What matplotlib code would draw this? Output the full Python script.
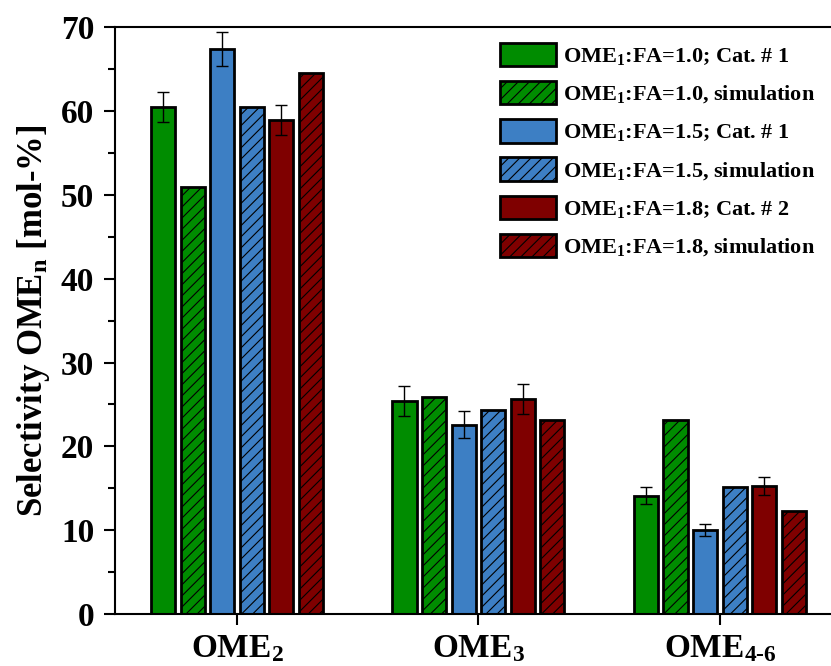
import numpy as np
import matplotlib
matplotlib.use("Agg")
import matplotlib.pyplot as plt

plt.rcParams['font.family'] = 'Liberation Serif'
plt.rcParams['font.weight'] = 'bold'
plt.rcParams['axes.labelweight'] = 'bold'
plt.rcParams['mathtext.fontset'] = 'custom'
plt.rcParams['mathtext.rm'] = 'Liberation Serif:bold'
plt.rcParams['mathtext.bf'] = 'Liberation Serif:bold'
plt.rcParams['mathtext.default'] = 'bf'
plt.rcParams['hatch.linewidth'] = 0.8

# data
categories = [r'OME$_{2}$', r'OME$_{3}$', r'OME$_{4\text{-}6}$']
labels = [r'OME$_{1}$:FA=1.0; Cat. # 1', r'OME$_{1}$:FA=1.0, simulation',
          r'OME$_{1}$:FA=1.5; Cat. # 1', r'OME$_{1}$:FA=1.5, simulation',
          r'OME$_{1}$:FA=1.8; Cat. # 2', r'OME$_{1}$:FA=1.8, simulation']
fa10_exp = [60.5, 25.4, 14.1]
fa10_exp_err = [1.8, 1.8, 1.0]
fa10_sim = [50.9, 25.9, 23.2]
fa15_exp = [67.4, 22.6, 10.0]
fa15_exp_err = [2.0, 1.6, 0.7]
fa15_sim = [60.5, 24.3, 15.2]
fa18_exp = [58.9, 25.7, 15.3]
fa18_exp_err = [1.8, 1.8, 1.1]
fa18_sim = [64.5, 23.1, 12.3]

series = [fa10_exp, fa10_sim, fa15_exp, fa15_sim, fa18_exp, fa18_sim]
errors = [fa10_exp_err, None, fa15_exp_err, None, fa18_exp_err, None]
colors = ['#008c00', '#008c00', '#3d7fc4', '#3d7fc4', '#7f0000', '#7f0000']
hatches = [None, '///', None, '///', None, '///']

fig = plt.figure(figsize=(8.31, 6.66), dpi=100)
ax = fig.add_axes([0.1384, 0.078, 0.8616, 0.881])

x = np.arange(len(categories))
step = 0.1225
width = 0.1
for i, vals in enumerate(series):
    pos = x + (i - 2.5) * step
    ax.bar(pos, vals, width, color=colors[i], edgecolor='black', linewidth=2,
           hatch=hatches[i], label=labels[i], zorder=2)
    if errors[i] is not None:
        ax.errorbar(pos, vals, yerr=errors[i], fmt='none', ecolor='black',
                    elinewidth=1, capsize=4.5, capthick=1, zorder=3)

ax.set_xlim(-0.505, 2.46)
ax.set_ylim(0, 70)
ax.set_xticks(x)
ax.set_xticklabels(categories, fontsize=24)
ax.set_yticks(np.arange(0, 71, 10))
ax.set_yticks(np.arange(5, 70, 10), minor=True)
ax.tick_params(axis='y', labelsize=24, direction='out', length=8, width=1.5, pad=7)
ax.tick_params(axis='y', which='minor', length=5, width=1.5)
ax.tick_params(axis='x', direction='out', length=8, width=1.5, labelsize=24, pad=6)
ax.set_ylabel(r'Selectivity OME$_{n}$ [mol-%]', fontsize=25, labelpad=6)
for s in ['left', 'bottom', 'top']:
    ax.spines[s].set_linewidth(1.5)
ax.spines['right'].set_visible(False)

ax.legend(loc='upper right', bbox_to_anchor=(1.0, 1.0), frameon=False,
          fontsize=16, handlelength=2.5, handleheight=1.25,
          labelspacing=0.62, handletextpad=0.35, borderaxespad=0.3)

plt.savefig('out.png', dpi=100)
